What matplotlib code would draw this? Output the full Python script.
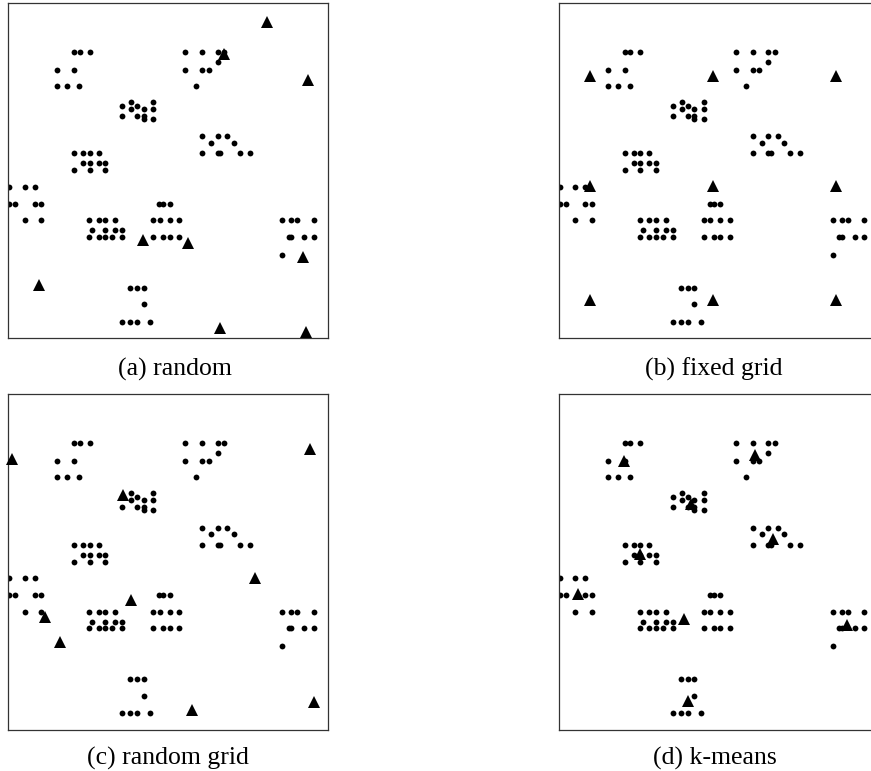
import matplotlib

matplotlib.use("Agg")
import matplotlib.pyplot as plt

# data points shared by all four panels (x, y in panel units, y up)
pts_x = [
    66, 71.3, 81.3, 48.7, 66, 48.7, 59, 71,
    177, 193.7, 209.3, 216, 209.3, 177, 193.7, 200.3, 187.3,
    122.7, 144.7, 113.7, 128.7, 122.7, 135.3, 144.7, 113.7, 128.7, 135.3, 135.3, 144.7,
    193.7, 209.3, 218.7, 202.7, 225.3, 193.7, 209.3, 212, 231.3, 241.3,
    66, 74.7, 81.3, 90.3, 74.7, 81.3, 90.3, 97, 66, 81.3, 97,
    1, 16.3, 26.3, 1, 7, 26.3, 33, 16.3, 33,
    81, 90.3, 97, 107, 83.7, 97, 107, 113.7, 81, 90.3, 97, 103.7, 113.7,
    151, 154.7, 161.3, 144.7, 151.3, 161.3, 170.7, 144.7, 154.7, 161.3, 170.7,
    273.7, 283, 288.7, 305.3, 280.3, 283, 296, 305.3, 273.7,
    122, 128.7, 135.3, 135.3, 113.7, 122, 128.7, 142,
]
pts_y = [
    286.3, 286.3, 286.3, 268.7, 268.7, 252, 252, 252,
    286.3, 286.3, 286.3, 286.3, 276.3, 268.7, 268.7, 268.7, 252,
    236.3, 236.3, 232, 232, 229.3, 229.3, 229.3, 222, 222, 222, 219.3, 219.3,
    202, 202, 202, 195.3, 195.3, 185, 185, 185, 185, 185,
    185, 185, 185, 185, 175, 175, 175, 175, 168, 168, 168,
    151.3, 151.3, 151.3, 134.7, 134.7, 134.7, 134.7, 118, 118,
    118, 118, 118, 118, 108, 108, 108, 108, 101.3, 101.3, 101.3, 101.3, 101.3,
    134.7, 134.7, 134.7, 118, 118, 118, 118, 101.3, 101.3, 101.3, 101.3,
    118, 118, 118, 118, 101.3, 101.3, 101.3, 101.3, 83.7,
    50.7, 50.7, 50.7, 34, 16.3, 16.3, 16.3, 16.3,
]

# initial centres for each method
random_x = [258.7, 215.3, 299.3, 134.7, 179.7, 294.7, 30.3, 212, 298]
random_y = [316.3, 284.7, 258, 98, 95.3, 81.3, 53, 10.7, 6.3]

grid_cols = [31.3, 153.7, 277]
grid_rows = [262, 152, 38.7]
fixed_x = [c for r in grid_rows for c in grid_cols]
fixed_y = [r for r in grid_rows for c in grid_cols]

rgrid_x = [3.7, 302, 114.3, 247, 122.7, 37, 52, 183.7, 306]
rgrid_y = [270.7, 280.7, 234, 151.7, 130, 113, 87.3, 19.7, 28]

kmeans_x = [64.7, 196, 132, 81.3, 213.7, 19.3, 125.3, 288, 129.3]
kmeans_y = [268, 274, 225.7, 175.7, 190.7, 135.7, 110.7, 105, 29]

captions = ["(a) random", "(b) fixed grid", "(c) random grid", "(d) k-means"]
centres = [(random_x, random_y), (fixed_x, fixed_y), (rgrid_x, rgrid_y), (kmeans_x, kmeans_y)]

W, H = 871, 771
fig = plt.figure(figsize=(W / 100, H / 100), dpi=100)

# panel boxes in pixels: left, top
boxes = [(8.3, 3.3), (558.8, 3.3), (8.3, 394.5), (558.8, 394.5)]
caption_pos = [(175, 369), (714, 369), (168, 758), (715, 758)]
pw, ph = 320, 335

for (left, top), (cx, cy), cap, (tx, ty) in zip(boxes, centres, captions, caption_pos):
    ax = fig.add_axes([left / W, (H - top - ph) / H, pw / W, ph / H])
    ax.plot(pts_x, pts_y, "o", color="black", markersize=4.2, markeredgewidth=0, clip_on=True)
    ax.plot(cx, cy, "^", color="black", markersize=8.8, markeredgewidth=0, zorder=3, clip_on=False)
    ax.set_xlim(0, 320)
    ax.set_ylim(0, 335)
    ax.set_xticks([])
    ax.set_yticks([])
    for s in ax.spines.values():
        s.set_linewidth(0.9)
        s.set_color("#333333")
    fig.text(tx / W, 1 - ty / H, cap, ha="center", va="center",
             family="Liberation Serif", fontsize=18.5)

fig.savefig("out.png", dpi=100)
